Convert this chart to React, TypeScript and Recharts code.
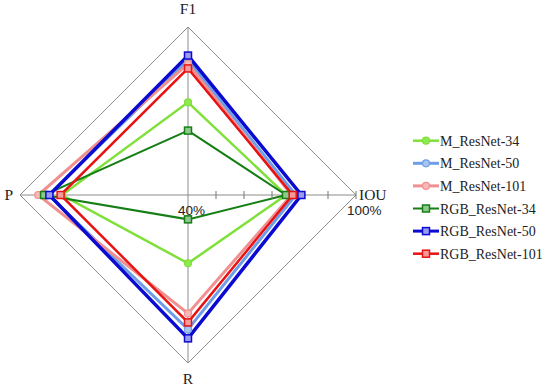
import { RadarChart, Radar, PolarGrid, PolarAngleAxis, PolarRadiusAxis, Legend } from 'recharts'

const METRICS = ['F1', 'IOU', 'R', 'P']

// percent values, order: F1, IOU, R, P
const M_RESNET_34 = [73.1, 75, 64.4, 85]
const M_RESNET_50 = [88.2, 78.5, 88, 89.8]
const M_RESNET_101 = [86.8, 77, 82.3, 93.5]
const RGB_RESNET_34 = [63, 75, 48.7, 91.4]
const RGB_RESNET_50 = [89.8, 80.5, 91.2, 89.5]
const RGB_RESNET_101 = [85.2, 77.4, 85.5, 85.5]

const SERIES_NAMES = ['M_ResNet-34', 'M_ResNet-50', 'M_ResNet-101', 'RGB_ResNet-34', 'RGB_ResNet-50', 'RGB_ResNet-101']
const SERIES_VALUES = [M_RESNET_34, M_RESNET_50, M_RESNET_101, RGB_RESNET_34, RGB_RESNET_50, RGB_RESNET_101]

const STYLES: Record<string, { color: string; fill: string; width: number; shape: 'circle' | 'square' }> = {
  'M_ResNet-34': { color: '#7fe03a', fill: '#8ee850', width: 2.5, shape: 'circle' },
  'M_ResNet-50': { color: '#6e9ee8', fill: '#a8c4f0', width: 3, shape: 'circle' },
  'M_ResNet-101': { color: '#f09090', fill: '#f6b8b8', width: 3, shape: 'circle' },
  'RGB_ResNet-34': { color: '#157f15', fill: '#8fc88f', width: 2, shape: 'square' },
  'RGB_ResNet-50': { color: '#0a0ad0', fill: '#9a9af0', width: 3.5, shape: 'square' },
  'RGB_ResNet-101': { color: '#e81212', fill: '#f49a9a', width: 2.5, shape: 'square' },
}

const RADIUS_TICKS = [40, 50, 60, 70, 80, 90, 100]

const data = METRICS.map((metric, i) => {
  const row: Record<string, string | number> = { metric }
  SERIES_NAMES.forEach((name, s) => {
    row[name] = SERIES_VALUES[s][i]
  })
  return row
})

const SERIF = '"Liberation Serif", "Times New Roman", serif'

function Marker({ x, y, name }: { x: number; y: number; name: string }) {
  const st = STYLES[name]
  if (st.shape === 'circle') {
    return <circle cx={x} cy={y} r={3.5} fill={st.fill} stroke={st.color} strokeWidth={1.2} />
  }
  return <rect x={x - 3.5} y={y - 3.5} width={7} height={7} fill={st.fill} stroke={st.color} strokeWidth={1.5} />
}

// tick marks across an axis; horizontal axes get vertical marks and vice versa
const makeRadiusTick = (vertical: boolean, withLabels: boolean) => (props: any) => {
  const { x, y, payload } = props
  const v = payload?.value
  if (v === 40) {
    return withLabels ? (
      <text x={x - 10} y={y + 20} fontSize={13.5} fontFamily='"Liberation Sans", Arial, sans-serif' fill="#222">
        40%
      </text>
    ) : <g />
  }
  return (
    <g>
      {vertical ? (
        <line x1={x - 4} y1={y} x2={x + 4} y2={y} stroke="#777" strokeWidth={1} />
      ) : (
        <line x1={x} y1={y - 4} x2={x} y2={y + 4} stroke="#777" strokeWidth={1} />
      )}
      {withLabels && v === 100 && (
        <text x={x - 9} y={y + 20} fontSize={13.5} fontFamily='"Liberation Sans", Arial, sans-serif' fill="#222">
          100%
        </text>
      )}
    </g>
  )
}

const renderAngleTick = (props: any) => {
  const { x, y, payload } = props
  const v = payload?.value
  let tx = x
  let ty = y
  let anchor: 'start' | 'middle' | 'end' = 'middle'
  if (v === 'F1') { ty = y - 5 }
  else if (v === 'IOU') { tx = x - 5; ty = y + 5; anchor = 'start' }
  else if (v === 'R') { ty = y + 13 }
  else if (v === 'P') { tx = x + 1; ty = y + 5; anchor = 'end' }
  return (
    <text x={tx} y={ty} textAnchor={anchor} fontSize={15.5} fontFamily={SERIF} fill="#222">
      {v}
    </text>
  )
}

const renderLegend = () => (
  <svg width={137} height={140}>
    {SERIES_NAMES.map((name, i) => {
      const st = STYLES[name]
      const y = 9.7 + i * 22.6
      return (
        <g key={name}>
          <line x1={0} y1={y} x2={26} y2={y} stroke={st.color} strokeWidth={Math.min(st.width, 3)} />
          <Marker x={13} y={y} name={name} />
          <text x={27} y={y + 5} fontSize={14} fontFamily={SERIF} fill="#222">
            {name}
          </text>
        </g>
      )
    })}
  </svg>
)

export default function App() {
  return (
    <div style={{ position: 'absolute', left: 0, top: 0, width: 550, height: 390, background: '#fff' }}>
      <RadarChart
        width={550}
        height={390}
        data={data}
        cx={188}
        cy={195}
        outerRadius={168}
        margin={{ top: 0, right: 0, bottom: 0, left: 0 }}
      >
        <PolarGrid gridType="polygon" polarRadius={[168]} stroke="#8c8c8c" strokeWidth={1} />
        <PolarAngleAxis dataKey="metric" tick={renderAngleTick} tickLine={false} axisLine={false} tickSize={0} />
        <PolarRadiusAxis
          angle={0}
          domain={[40, 100]}
          ticks={RADIUS_TICKS as any}
          tickCount={7}
          axisLine={false}
          tick={makeRadiusTick(false, true)}
        />
        <PolarRadiusAxis radiusAxisId="up" angle={90} domain={[40, 100]} ticks={RADIUS_TICKS as any} tickCount={7} axisLine={false} tick={makeRadiusTick(true, false)} />
        <PolarRadiusAxis radiusAxisId="left" angle={180} domain={[40, 100]} ticks={RADIUS_TICKS as any} tickCount={7} axisLine={false} tick={makeRadiusTick(false, false)} />
        <PolarRadiusAxis radiusAxisId="down" angle={270} domain={[40, 100]} ticks={RADIUS_TICKS as any} tickCount={7} axisLine={false} tick={makeRadiusTick(true, false)} />
        {SERIES_NAMES.map((name) => {
          const st = STYLES[name]
          return (
            <Radar
              key={name}
              name={name}
              dataKey={name}
              stroke={st.color}
              strokeWidth={st.width}
              fill="none"
              fillOpacity={0}
              isAnimationActive={false}
              dot={(p: any) => <Marker key={`${name}-${p.index}`} x={p.cx} y={p.cy} name={name} />}
            />
          )
        })}
        <Legend
          content={renderLegend}
          wrapperStyle={{ position: 'absolute', left: 413, top: 131, width: 137, height: 140 }}
        />
      </RadarChart>
    </div>
  )
}
